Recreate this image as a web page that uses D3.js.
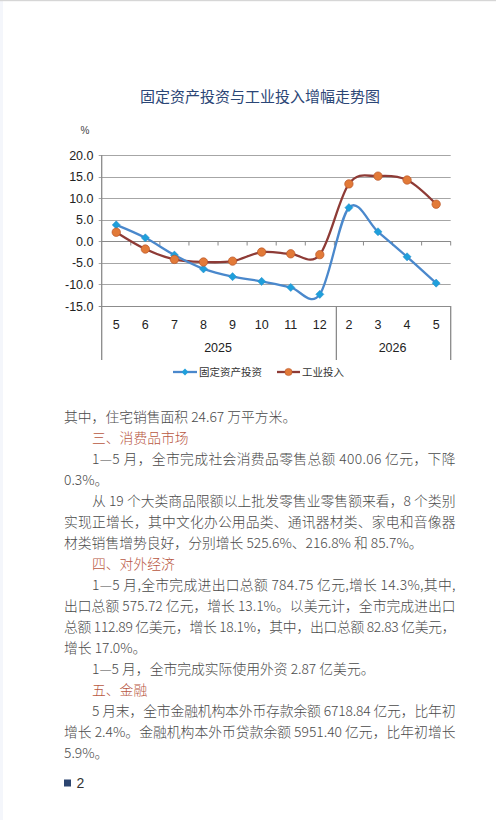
<!DOCTYPE html>
<html>
<head>
<meta charset="utf-8">
<script src="https://cdn.jsdelivr.net/npm/d3@7"></script>
<style>
  html, body { margin: 0; padding: 0; background: #fff; }
  body { width: 496px; height: 820px; position: relative; overflow: hidden; }
  #chart { position: absolute; left: 0; top: 0; }
</style>
</head>
<body>
<svg id="chart" width="496" height="820"></svg>
<script>
// chart data
var months = ["5", "6", "7", "8", "9", "10", "11", "12", "2", "3", "4", "5"];
var years = ["2025", "2025", "2025", "2025", "2025", "2025", "2025", "2025", "2026", "2026", "2026", "2026"];
var fixedInvest = [3.8, 0.8, -3.2, -6.4, -8.2, -9.3, -10.7, -12.3, 7.8, 2.2, -3.6, -9.7];
var industryInput = [2.1, -1.8, -4.2, -4.8, -4.6, -2.5, -2.9, -3.1, 13.3, 15.1, 14.2, 8.6];
var yTicks = [20, 15, 10, 5, 0, -5, -10, -15];
var seriesNames = ["固定资产投资", "工业投入"];

// body text lines: [text, indent, justify, heading]
var lines = [
  ["其中，住宅销售面积 24.67 万平方米。", 0, 0, 0],
  ["三、消费品市场", 1, 0, 1],
  ["1—5 月，全市完成社会消费品零售总额 400.06 亿元，下降", 1, 1, 0],
  ["0.3%。", 0, 0, 0],
  ["从 19 个大类商品限额以上批发零售业零售额来看，8 个类别", 1, 1, 0],
  ["实现正增长，其中文化办公用品类、通讯器材类、家电和音像器", 0, 1, 0],
  ["材类销售增势良好，分别增长 525.6%、216.8% 和 85.7%。", 0, 0, 0],
  ["四、对外经济", 1, 0, 1],
  ["1—5 月,全市完成进出口总额 784.75 亿元,增长 14.3%,其中,", 1, 1, 0],
  ["出口总额 575.72 亿元，增长 13.1%。以美元计，全市完成进出口", 0, 1, 0],
  ["总额 112.89 亿美元，增长 18.1%，其中，出口总额 82.83 亿美元，", 0, 1, 0],
  ["增长 17.0%。", 0, 0, 0],
  ["1—5 月，全市完成实际使用外资 2.87 亿美元。", 1, 0, 0],
  ["五、金融", 1, 0, 1],
  ["5 月末，全市金融机构本外币存款余额 6718.84 亿元，比年初", 1, 1, 0],
  ["增长 2.4%。金融机构本外币贷款余额 5951.40 亿元，比年初增长", 0, 1, 0],
  ["5.9%。", 0, 0, 0]
];

var svg = d3.select("#chart");

// page decoration
svg.append("rect").attr("x", 0).attr("y", 0).attr("width", 3).attr("height", 820).attr("fill", "#f4f6fb");
svg.append("rect").attr("x", 0).attr("y", 0).attr("width", 496).attr("height", 1.2).attr("fill", "#d6d6d6");

// body text
var textLeft = 64, textRight = 455.5, indentW = 28;
svg.append("g").selectAll("text")
    .data(lines)
    .enter()
    .append("text")
    .attr("x", function(d) { return textLeft + (d[1] ? indentW : 0); })
    .attr("y", function(d, i) { return 416.7 + i * 21; })
    .attr("dy", "0.36em")
    .attr("textLength", function(d) { return d[2] ? textRight - textLeft - (d[1] ? indentW : 0) : null; })
    .attr("lengthAdjust", "spacing")
    .style("font-size", "13.8px")
    .style("font-family", "Noto Sans CJK SC")
    .style("font-weight", 300)
    .style("fill", function(d) { return d[3] ? "#b8573f" : "#4a4a4a"; })
    .text(function(d) { return d[0]; });

svg.append("rect").attr("x", 64).attr("y", 779.5).attr("width", 7).attr("height", 7).attr("fill", "#2c4570");
svg.append("text").attr("x", 76.5).attr("y", 783.3).attr("dy", "0.36em")
    .style("font-size", "14px").style("fill", "#333")
    .style("font-family", "Liberation Sans")
    .text("2");

var plotLeft = 101.7, plotRight = 450.7, plotTop = 155, plotBottom = 306, frameBottom = 360;

var x = d3.scaleBand().domain(d3.range(months.length)).range([plotLeft, plotRight]);
var y = d3.scaleLinear().domain([-15, 20]).range([plotBottom, plotTop]);
var bw = x.bandwidth();

svg.append("text")
    .attr("x", 260).attr("y", 97)
    .attr("text-anchor", "middle").attr("dy", "0.35em")
    .style("font-size", "15px").style("fill", "#2b4676")
    .style("font-family", "Noto Sans CJK SC")
    .style("font-weight", 400)
    .text("固定资产投资与工业投入增幅走势图");

svg.append("text")
    .attr("x", 85).attr("y", 130)
    .attr("text-anchor", "middle").attr("dy", "0.35em")
    .style("font-size", "10px").style("fill", "#444")
    .style("font-family", "Liberation Sans")
    .text("%");

// gridlines
svg.append("g").selectAll("line")
    .data(yTicks)
    .enter()
    .append("line")
    .attr("x1", plotLeft - 3).attr("x2", plotRight)
    .attr("y1", function(d) { return Math.round(y(d)) + 0.5; })
    .attr("y2", function(d) { return Math.round(y(d)) + 0.5; })
    .attr("stroke", function(d) { return d === -15 ? "#8c8c8c" : "#a6a6a6"; })
    .attr("stroke-width", 1);

// y labels
svg.append("g").selectAll("text")
    .data(yTicks)
    .enter()
    .append("text")
    .attr("x", 93.5).attr("y", function(d) { return y(d); })
    .attr("text-anchor", "end").attr("dy", "0.36em")
    .style("font-size", "12.5px").style("fill", "#222")
    .style("font-family", "Liberation Sans")
    .text(function(d) { return d.toFixed(1); });

// axis frame
var axisColor = "#8a8a8a";
svg.append("line")
    .attr("x1", plotLeft).attr("x2", plotLeft).attr("y1", plotTop).attr("y2", frameBottom)
    .attr("stroke", axisColor).attr("stroke-width", 1.3);
svg.append("line")
    .attr("x1", x(8) + 2).attr("x2", x(8) + 2).attr("y1", plotBottom).attr("y2", frameBottom)
    .attr("stroke", axisColor).attr("stroke-width", 1.3);
svg.append("line")
    .attr("x1", plotRight).attr("x2", plotRight).attr("y1", plotBottom).attr("y2", frameBottom)
    .attr("stroke", axisColor).attr("stroke-width", 1.3);

// category ticks on zero line
var y0 = Math.round(y(0)) + 0.5;
svg.append("line")
    .attr("x1", plotLeft).attr("x2", plotRight).attr("y1", y0).attr("y2", y0)
    .attr("stroke", axisColor).attr("stroke-width", 1);
svg.append("g").selectAll("line")
    .data(d3.range(1, months.length + 1))
    .enter()
    .append("line")
    .attr("x1", function(i) { return i < months.length ? x(i) : plotRight; })
    .attr("x2", function(i) { return i < months.length ? x(i) : plotRight; })
    .attr("y1", y0).attr("y2", y0 + 4)
    .attr("stroke", axisColor).attr("stroke-width", 1);

// month labels
svg.append("g").selectAll("text")
    .data(months)
    .enter()
    .append("text")
    .attr("x", function(d, i) { return x(i) + bw / 2; })
    .attr("y", 324).attr("dy", "0.36em")
    .attr("text-anchor", "middle")
    .style("font-size", "12.5px").style("fill", "#222")
    .style("font-family", "Liberation Sans")
    .text(function(d) { return d; });

// year labels
var yearGroups = d3.groups(d3.range(months.length), function(i) { return years[i]; });
svg.append("g").selectAll("text")
    .data(yearGroups)
    .enter()
    .append("text")
    .attr("x", function(g) { return (x(g[1][0]) + x(g[1][g[1].length - 1]) + bw) / 2; })
    .attr("y", 347).attr("dy", "0.36em")
    .attr("text-anchor", "middle")
    .style("font-size", "12.5px").style("fill", "#222")
    .style("font-family", "Liberation Sans")
    .text(function(g) { return g[0]; });

// lines
var line = d3.line()
    .x(function(d, i) { return x(i) + bw / 2; })
    .y(function(d) { return y(d); })
    .curve(d3.curveCardinal.tension(0));

var blue = "#4a88cc", blueMark = "#1f9fdb";
var brown = "#8e3b36", orange = "#e27a38";

svg.append("path")
    .attr("d", line(industryInput))
    .attr("fill", "none").attr("stroke", brown).attr("stroke-width", 2.3);
svg.append("path")
    .attr("d", line(fixedInvest))
    .attr("fill", "none").attr("stroke", blue).attr("stroke-width", 2.3);

var diamond = d3.symbol().type(d3.symbolDiamond2).size(42);

svg.append("g").selectAll("path")
    .data(fixedInvest)
    .enter()
    .append("path")
    .attr("d", diamond)
    .attr("transform", function(d, i) { return "translate(" + (x(i) + bw / 2) + "," + y(d) + ")"; })
    .attr("fill", blueMark).attr("stroke", "#2a8fc8").attr("stroke-width", 0.5);

svg.append("g").selectAll("circle")
    .data(industryInput)
    .enter()
    .append("circle")
    .attr("cx", function(d, i) { return x(i) + bw / 2; })
    .attr("cy", function(d) { return y(d); })
    .attr("r", 4.2)
    .attr("fill", orange).attr("stroke", "#b9562a").attr("stroke-width", 0.7);

// legend
var leg = svg.append("g");
leg.append("line").attr("x1", 173).attr("x2", 197).attr("y1", 372).attr("y2", 372)
    .attr("stroke", blue).attr("stroke-width", 2.3);
leg.append("path").attr("d", d3.symbol().type(d3.symbolDiamond2).size(30))
    .attr("transform", "translate(185,372)").attr("fill", blueMark);
leg.append("text").attr("x", 199).attr("y", 372).attr("dy", "0.36em")
    .style("font-size", "10.5px").style("fill", "#333")
    .style("font-family", "Noto Sans CJK SC")
    .text(seriesNames[0]);
leg.append("line").attr("x1", 277).attr("x2", 300).attr("y1", 372).attr("y2", 372)
    .attr("stroke", brown).attr("stroke-width", 2.3);
leg.append("circle").attr("cx", 288.5).attr("cy", 372).attr("r", 3.6)
    .attr("fill", orange).attr("stroke", "#b9562a").attr("stroke-width", 0.6);
leg.append("text").attr("x", 302).attr("y", 372).attr("dy", "0.36em")
    .style("font-size", "10.5px").style("fill", "#333")
    .style("font-family", "Noto Sans CJK SC")
    .text(seriesNames[1]);
</script>
</body>
</html>
